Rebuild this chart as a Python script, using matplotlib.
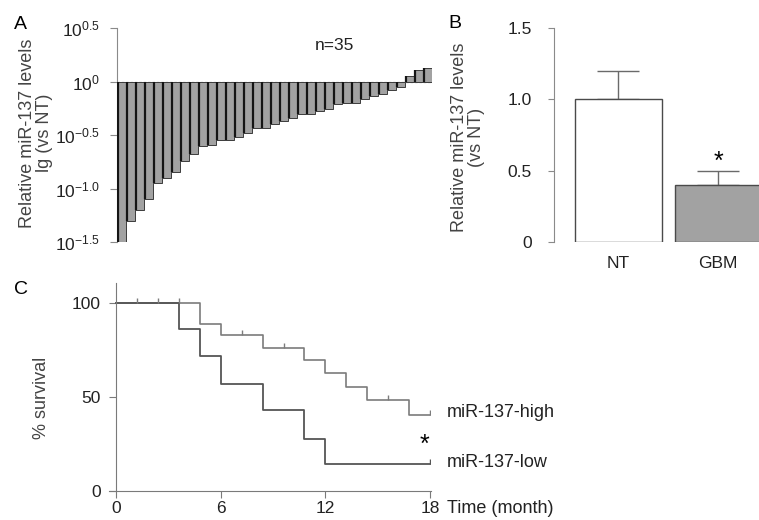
import numpy as np
import matplotlib.pyplot as plt

plt.rcParams['font.family'] = ['Liberation Sans', 'DejaVu Sans']
plt.rcParams['mathtext.fontset'] = 'custom'
plt.rcParams['mathtext.rm'] = 'Liberation Sans'
plt.rcParams['mathtext.it'] = 'Liberation Sans:italic'

# panel A: lg(relative miR-137) per GBM sample, sorted
a_lg = [-1.50, -1.30, -1.20, -1.10, -0.95, -0.90, -0.85, -0.74, -0.68, -0.60,
        -0.595, -0.55, -0.55, -0.52, -0.48, -0.43, -0.43, -0.40, -0.37, -0.34,
        -0.305, -0.30, -0.28, -0.26, -0.21, -0.20, -0.20, -0.16, -0.14, -0.12,
        -0.08, -0.047, 0.053, 0.105, 0.128]
a_ticks = [0.5, 0.0, -0.5, -1.0, -1.5]
a_ticklabels = [r'$10^{0.5}$', r'$10^{0}$', r'$10^{-0.5}$', r'$10^{-1.0}$', r'$10^{-1.5}$']

# panel B: mean relative level and upper error
b_groups = ['NT', 'GBM']
b_means = [1.0, 0.40]
b_err = [0.20, 0.10]

# panel C: Kaplan-Meier curves (time in months, % survival)
high_t = [0, 4.8, 6.0, 8.4, 10.8, 12.0, 13.2, 14.4, 16.8, 18]
high_s = [100, 88.5, 82.7, 76.1, 69.4, 62.5, 55.0, 48.3, 40.2, 40.2]
high_cens = [1.2, 2.4, 3.6, 7.2, 9.6, 15.6, 18]
low_t = [0, 3.6, 4.8, 6.0, 8.4, 10.8, 12.0, 18]
low_s = [100, 86.0, 71.7, 57.0, 42.9, 27.8, 14.5, 14.5]
low_cens = [18]

W, H = 759, 520
fig = plt.figure(figsize=(W / 100, H / 100), dpi=100)

AX_GRAY = '#8a8a8a'
TXT = '#222222'
LAB = '#444444'


def px_axes(x0, y0, x1, y1):
    return fig.add_axes([x0 / W, 1 - y1 / H, (x1 - x0) / W, (y1 - y0) / H])


def surv_at(t, s, times):
    idx = np.searchsorted(t, times, side='right') - 1
    return np.asarray(s)[idx]


# ---- A ----
axA = px_axes(117, 28, 432, 242)
x = np.arange(len(a_lg))
axA.axhline(0, color='#9a9a9a', lw=0.9, ls=(0, (2, 1.5)), zorder=1)
axA.bar(x, a_lg, width=1.0, align='edge', color='#a2a2a2',
        edgecolor='#3c3c3c', linewidth=0.7, zorder=2)
axA.vlines(x + 0.06, 0, a_lg, color='#151515', lw=1.6, zorder=3)
axA.set_xlim(0, len(a_lg))
axA.set_ylim(-1.5, 0.5)
for s in ['top', 'right', 'bottom']:
    axA.spines[s].set_visible(False)
axA.spines['left'].set_color(AX_GRAY)
axA.set_xticks([])
axA.set_yticks(a_ticks)
axA.set_yticklabels(a_ticklabels)
axA.tick_params(axis='y', length=5, color=AX_GRAY, labelsize=12.5,
                labelcolor=TXT, pad=7)
axA.text(0.69, 0.92, 'n=35', transform=axA.transAxes, ha='center',
         va='center', fontsize=12.5, color=TXT)
fig.text(36 / W, 1 - 133 / H, 'Relative miR-137 levels\nlg (vs NT)',
         rotation=90, ha='center', va='center', multialignment='center',
         fontsize=13, color=LAB, linespacing=1.0)
fig.text(20 / W, 1 - 24 / H, 'A', ha='center', va='center', fontsize=14,
         color='black')

# ---- B ----
axB = px_axes(554, 28, 759, 242)
xb = np.arange(len(b_groups))
axB.bar(xb, b_means, width=0.874, color=['white', '#a2a2a2'],
        edgecolor='#4a4a4a', linewidth=1.0, zorder=2)
axB.errorbar(xb, b_means, yerr=[[0, 0], b_err], fmt='none', ecolor='#6a6a6a',
             elinewidth=1.0, capsize=15, capthick=1.0, zorder=1)
axB.set_xlim(-0.648, 1.412)
axB.set_ylim(0, 1.5)
for s in ['top', 'right', 'bottom']:
    axB.spines[s].set_visible(False)
axB.spines['left'].set_color(AX_GRAY)
axB.set_xticks(xb)
axB.set_xticklabels(b_groups)
axB.tick_params(axis='x', length=0, pad=10, labelsize=12.5, labelcolor=TXT)
axB.set_yticks([0, 0.5, 1.0, 1.5])
axB.set_yticklabels(['0', '0.5', '1.0', '1.5'])
axB.tick_params(axis='y', length=4, color=AX_GRAY, labelsize=12.5,
                labelcolor=TXT, pad=12)
axB.text(1, b_means[1] + b_err[1] + 0.06, '*', ha='center', va='center',
         fontsize=18, color='black')
fig.text(468 / W, 1 - 137 / H, 'Relative miR-137 levels\n(vs NT)',
         rotation=90, ha='center', va='center', multialignment='center',
         fontsize=13, color=LAB, linespacing=1.0)
fig.text(455 / W, 1 - 23 / H, 'B', ha='center', va='center', fontsize=14,
         color='black')

# ---- C ----
axC = px_axes(109, 283, 431, 491)
axC.step(high_t, high_s, where='post', color='#7c7c7c', lw=1.2)
axC.step(low_t, low_s, where='post', color='#555555', lw=1.3)
hc = surv_at(high_t, high_s, high_cens)
lc = surv_at(low_t, low_s, low_cens)
axC.vlines(high_cens, hc, hc + 2.7, color='#7c7c7c', lw=1.0)
axC.vlines(low_cens, lc, lc + 2.7, color='#555555', lw=1.0)
axC.set_xlim(-0.4, 18.05)
axC.set_ylim(0, 110.5)
for s in ['top', 'right']:
    axC.spines[s].set_visible(False)
axC.spines['left'].set_position(('data', 0))
axC.spines['left'].set_color('#7a7a7a')
axC.spines['bottom'].set_color('#7a7a7a')
axC.set_xticks([0, 6, 12, 18])
axC.set_yticks([0, 50, 100])
axC.tick_params(axis='both', length=5, color='#7a7a7a', labelsize=12.5,
                labelcolor=TXT)
axC.tick_params(axis='x', pad=2.5)
axC.tick_params(axis='y', pad=6)
axC.text(18.98, 41.6, 'miR-137-high', ha='left', va='center', fontsize=13,
         color=TXT, clip_on=False)
axC.text(18.98, 15.0, 'miR-137-low', ha='left', va='center', fontsize=13,
         color=TXT, clip_on=False)
axC.text(17.7, 24.5, '*', ha='center', va='center', fontsize=18,
         color='black', clip_on=False)
axC.text(18.98, -5.0, 'Time (month)', ha='left', va='top', fontsize=13,
         color=TXT, clip_on=False)
fig.text(42 / W, 1 - 398 / H, '% survival', rotation=90, ha='center',
         va='center', fontsize=13, color=LAB)
fig.text(21 / W, 1 - 289 / H, 'C', ha='center', va='center', fontsize=14,
         color='black')

fig.savefig('out.png', dpi=100)
